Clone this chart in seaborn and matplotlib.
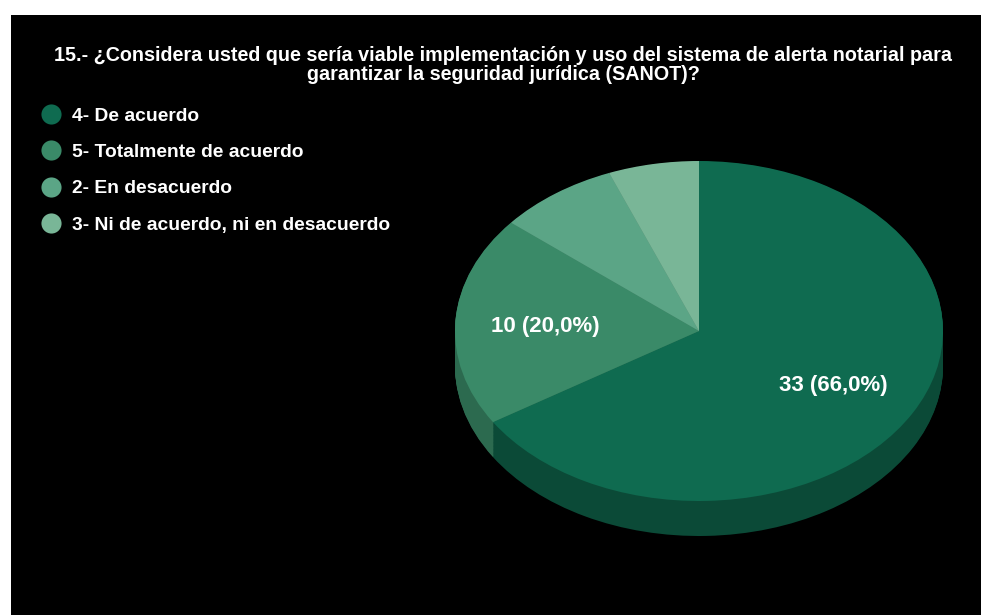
import numpy as np
import matplotlib
matplotlib.use("Agg")
import matplotlib.pyplot as plt
from matplotlib.patches import Rectangle
from matplotlib.lines import Line2D
import seaborn as sns

# Survey answers (clockwise from 12 o'clock)
categories = ["4- De acuerdo", "5- Totalmente de acuerdo",
              "2- En desacuerdo", "3- Ni de acuerdo, ni en desacuerdo"]
counts = [33, 10, 4, 3]

title = ("15.- ¿Considera usted que sería viable implementación y uso del sistema de alerta notarial para\n"
         "garantizar la seguridad jurídica (SANOT)?")

top_colors = ["#0f6b50", "#3a8a68", "#5ba586", "#79b697"]
side_colors = ["#0b4a37", "#2c6a4f", "#447d65", "#5a8a72"]

sns.set_theme(style="white")
plt.rcParams["font.family"] = ["Liberation Sans", "DejaVu Sans"]

W, H = 981, 615
fig = plt.figure(figsize=(W / 100, H / 100), dpi=100, facecolor="white")

# black panel
fig.patches.append(Rectangle((11 / W, 0), (W - 11) / W, (H - 15) / H,
                             transform=fig.transFigure, facecolor="black",
                             edgecolor="none", zorder=-5))

# tilted pie geometry (pixels)
CX, CY, RX, RY, DEPTH = 699, 331, 244, 170, 35
m = 1.15
left = CX - m * RX
width = 2 * m * RX
top = CY - m * RY
bottom = CY + m * RY + DEPTH
ax = fig.add_axes([left / W, (H - bottom) / H, width / W, (bottom - top) / H])
ax.set_zorder(2)
ax.patch.set_alpha(0)

d = DEPTH / RY
# side wall: stacked darker copies of the pie
for off in np.linspace(d, 0.004, 45):
    ax.pie(counts, colors=side_colors, startangle=90, counterclock=False,
           center=(0, -off), radius=1, wedgeprops=dict(linewidth=0))

total = sum(counts)


def fmt(pct):
    if pct < 10:
        return ""
    val = int(round(pct * total / 100))
    return f"{val} ({pct:.1f}%)".replace(".", ",")


wedges, texts, autotexts = ax.pie(
    counts, colors=top_colors, startangle=90, counterclock=False,
    center=(0, 0), radius=1, autopct=fmt, pctdistance=0.63,
    wedgeprops=dict(linewidth=0),
    textprops=dict(color="white", fontweight="bold", fontsize=16,
                   va="center_baseline"))

ax.set_aspect("auto")
ax.set_xlim(-m, m)
ax.set_ylim(-m - d, m)
ax.axis("off")

# title
fig.text(503 / W, 1 - 46 / H, title, ha="center", va="top", color="white",
         fontsize=14.2, fontweight="bold", linespacing=0.97, zorder=3)

# legend
handles = [Line2D([], [], linestyle="none", marker="o", markersize=14.5,
                  markerfacecolor=c, markeredgecolor="none") for c in top_colors]
leg = fig.legend(handles, categories, loc="upper left",
                 bbox_to_anchor=(41 / W, 1 - 107 / H), frameon=False,
                 prop=dict(size=13.9, weight="bold"), labelcolor="white",
                 handlelength=1.0, handletextpad=0.62, labelspacing=0.98,
                 borderpad=0, borderaxespad=0)
leg.set_zorder(3)

fig.savefig("out.png", dpi=100, facecolor="white")
